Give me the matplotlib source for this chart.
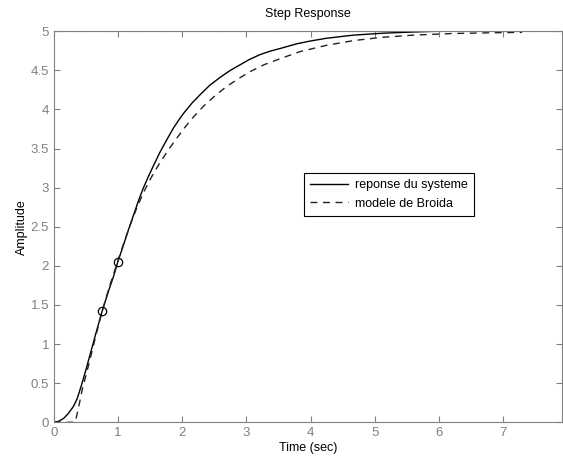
import matplotlib
matplotlib.use("Agg")
import matplotlib.pyplot as plt

plt.rcParams.update({"font.family": ["Liberation Sans", "DejaVu Sans"], "font.size": 9})

# system step response
t_sys = [0, 0.08, 0.15, 0.22, 0.3, 0.36, 0.43, 0.5, 0.56, 0.65, 0.75, 0.85, 0.93, 0.99,
         1.08, 1.16, 1.24, 1.32, 1.39, 1.47, 1.55, 1.65, 1.75, 1.86, 1.95, 2.02, 2.15,
         2.28, 2.43, 2.59, 2.75, 2.90, 3.05, 3.21, 3.37, 3.53, 3.79, 4.0, 4.25, 4.67,
         5.14, 5.6, 6.0, 7.92]
y_sys = [0, 0.015, 0.05, 0.11, 0.2, 0.3, 0.48, 0.68, 0.86, 1.13, 1.42, 1.68, 1.87, 2.04,
         2.26, 2.46, 2.65, 2.84, 2.99, 3.14, 3.28, 3.45, 3.6, 3.76, 3.87, 3.95, 4.08,
         4.19, 4.31, 4.41, 4.5, 4.57, 4.64, 4.70, 4.745, 4.78, 4.84, 4.875, 4.91, 4.95,
         4.975, 4.99, 5.0, 5.0]

# Broida model (first order + delay)
t_broida = [0, 0.33, 0.38, 0.44, 0.51, 0.56, 0.65, 0.75, 0.87, 0.99, 1.1, 1.2, 1.29, 1.38,
            1.47, 1.55, 1.63, 1.78, 1.93, 2.05, 2.17, 2.33, 2.49, 2.67, 2.85, 3.05, 3.27,
            3.53, 3.84, 4.25, 4.67, 5.09, 5.6, 6.2, 6.8, 7.3]
y_broida = [0, 0, 0.18, 0.42, 0.64, 0.8, 1.1, 1.42, 1.75, 2.05, 2.32, 2.55, 2.74, 2.91,
            3.06, 3.18, 3.29, 3.48, 3.65, 3.78, 3.9, 4.04, 4.16, 4.28, 4.38, 4.48, 4.57,
            4.65, 4.74, 4.82, 4.88, 4.92, 4.95, 4.97, 4.98, 4.985]

# Broida points at 28% and 40%
t_pts = [0.75, 0.99]
y_pts = [1.42, 2.05]

fig = plt.figure(figsize=(5.63, 4.59), dpi=100)
ax = fig.add_axes([0.096, 0.08, 0.902, 0.852])

ax.plot(t_sys, y_sys, color="black", lw=1.0, label="reponse du systeme")
ax.plot(t_broida, y_broida, color="#222222", lw=1.0, ls=(0, (5, 4)), label="modele de Broida")
ax.plot(t_pts, y_pts, "o", mfc="none", mec="black", ms=6, mew=0.9)
ax.axhline(5, color="black", ls=":", lw=0.8)

ax.set_xlim(0, 7.92)
ax.set_ylim(0, 5)
ax.set_xticks(range(8))
ax.set_yticks([0, 0.5, 1, 1.5, 2, 2.5, 3, 3.5, 4, 4.5, 5])
ax.set_yticklabels(["0", "0.5", "1", "1.5", "2", "2.5", "3", "3.5", "4", "4.5", "5"])
ax.tick_params(direction="in", top=True, right=True, length=4, width=0.8,
               colors="#808080", labelcolor="#808080", labelsize=9.5)
for s in ax.spines.values():
    s.set_color("#808080")
    s.set_linewidth(0.8)

ax.set_title("Step Response", fontsize=9, pad=10)
ax.set_xlabel("Time (sec)", fontsize=9, labelpad=2)
ax.set_ylabel("Amplitude", fontsize=9, labelpad=2)

leg = ax.legend(loc="upper left", bbox_to_anchor=(0.492, 0.637), borderaxespad=0,
                fancybox=False, edgecolor="black", framealpha=1, fontsize=9,
                handlelength=3.0, handletextpad=0.6, borderpad=0.5, labelspacing=0.5)
leg.get_frame().set_linewidth(0.8)

fig.savefig("out.png", dpi=100)
